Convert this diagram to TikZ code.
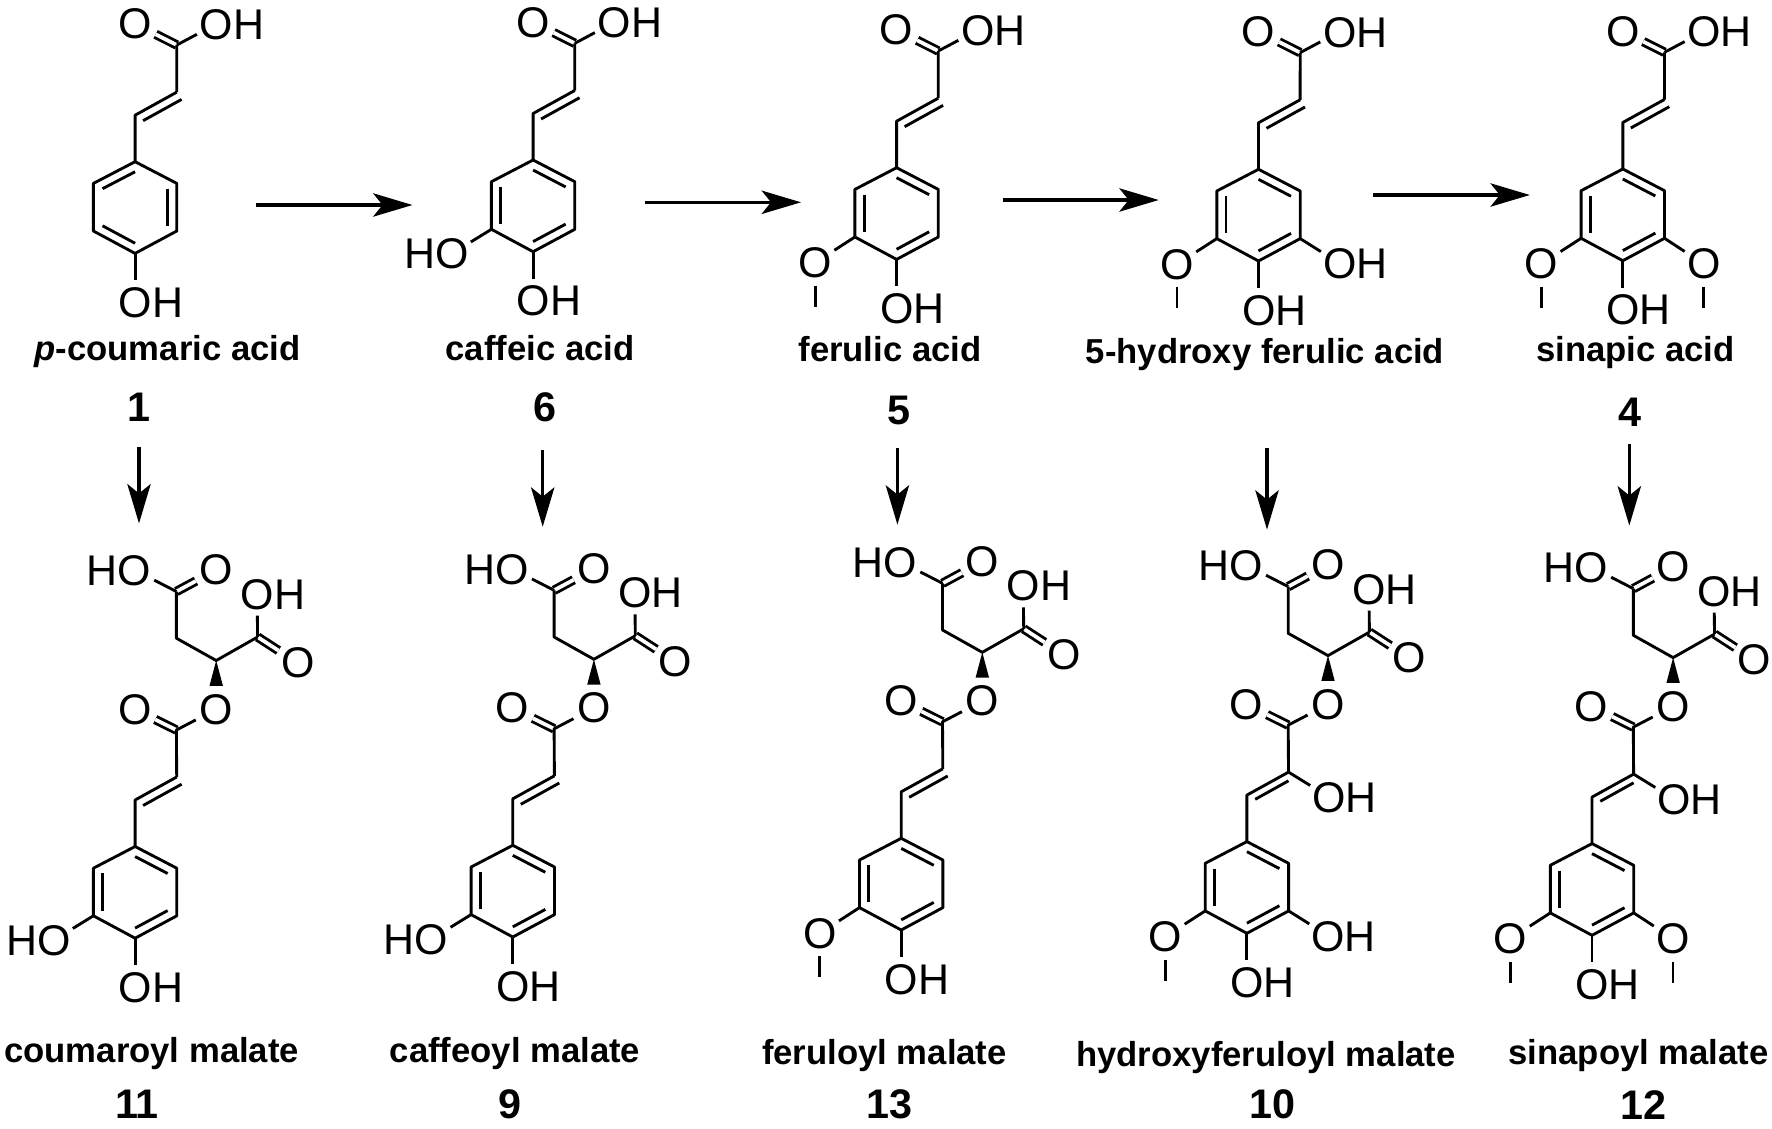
\documentclass[tikz,border=0pt]{standalone}
\usepackage{fontspec}
\usepackage{graphicx}
\setmainfont{Liberation Sans}
\usetikzlibrary{calc,arrows.meta}
\tikzset{
  bond/.style={line width=2.15pt,line join=round,black},
  dbl/.style={line width=2.15pt,double,double distance=2.8pt,black},
  toatom/.style={bond,shorten >=16.5pt},
  atomO/.style={circle,inner sep=0pt,minimum size=34pt,font=\fontsize{32.2}{32.2}\selectfont},
  atomT/.style={inner sep=0pt,font=\fontsize{32.2}{32.2}\selectfont},
  caption/.style={inner sep=0pt,anchor=base,font=\fontsize{26}{26}\selectfont\bfseries},
  number/.style={inner sep=0pt,anchor=base,font=\fontsize{31}{31}\selectfont\bfseries},
  rxn/.style={line width=2.3pt,black,-{Stealth[length=29.5pt,width=17.5pt,inset=7pt]}}
}
% ring; #1 prefix
\newcommand\RingAt[1]{%
  \coordinate (#1-t) at (0,0);
  \coordinate (#1-ur) at (41.7,21.7);
  \coordinate (#1-lr) at (41.7,69.3);
  \coordinate (#1-b) at (0,91.7);
  \coordinate (#1-ll) at (-41.7,69.3);
  \coordinate (#1-ul) at (-41.7,21.7);
  \coordinate (#1-c) at (0,45.7);
  \draw[bond] (#1-t)--(#1-ur)--(#1-lr)--(#1-b)--(#1-ll)--(#1-ul)--cycle;
}
\newcommand\InnerBond[3]{\draw[bond] ($(#1-c)!.78!(#1-#2)$) -- ($(#1-c)!.78!(#1-#3)$);}
\newcommand\RingA[1]{\RingAt{#1}\InnerBond{#1}{ul}{t}\InnerBond{#1}{ur}{lr}\InnerBond{#1}{ll}{b}}
\newcommand\RingB[1]{\RingAt{#1}\InnerBond{#1}{t}{ur}\InnerBond{#1}{ul}{ll}\InnerBond{#1}{lr}{b}}
% prefix, name, x, y : OH whose O is at x,y
\newcommand\OHat[4]{\coordinate (#1-#2) at (#3,#4);
  \node[atomT,anchor=base west] (#1-#2-text) at (#3-16.7,#4+15.4) {OH};}
\newcommand\HOat[4]{\coordinate (#1-#2) at (#3,#4);
  \node[atomT,anchor=base east] (#1-#2-text) at (#3+16.7,#4+15.4) {HO};}
\newcommand\Oat[4]{\node[atomO] (#1-#2) at (#3,#4) {O};}
\newcommand\BottomOH[1]{\OHat{#1}{boh}{0}{140.5}\draw[toatom] (#1-b)--(#1-boh);}
\newcommand\LeftHO[1]{\HOat{#1}{lho}{-81}{93.5}\draw[toatom] (#1-ll)--(#1-lho);}
\newcommand\RightOH[1]{\OHat{#1}{roh}{81}{94}\draw[toatom] (#1-lr)--(#1-roh);}
\newcommand\LeftOMe[1]{\Oat{#1}{lo}{-81.5}{95}\draw[bond] (#1-ll)--(#1-lo);
  \coordinate (#1-lme) at (-81.5,139);\draw[bond] (#1-lo)--(#1-lme);}
\newcommand\RightOMe[1]{\Oat{#1}{ro}{81}{95}\draw[bond] (#1-lr)--(#1-ro);
  \coordinate (#1-rme) at (81,139);\draw[bond] (#1-ro)--(#1-rme);}
% trans alkene
\newcommand\Alkene[1]{%
  \coordinate (#1-c2) at (0,-46.5);\coordinate (#1-c1) at (41.6,-69.5);
  \coordinate (#1-i2) at (8,-41);\coordinate (#1-i1) at (46.5,-62.3);
  \draw[bond] (#1-t)--(#1-c2)--(#1-c1);
  \draw[bond] (#1-i2)--(#1-i1);
}
\newcommand\HydroxyAlkene[1]{%
  \coordinate (#1-c2) at (0,-46.5);\coordinate (#1-c1) at (41.6,-69.5);
  \coordinate (#1-i2) at (8.3,-42.3);\coordinate (#1-i1) at (41.6,-60.8);
  \draw[bond] (#1-t)--(#1-c2)--(#1-c1);
  \draw[bond] (#1-i2)--(#1-i1);
  \OHat{#1}{aoh}{82}{-44.6}\draw[toatom] (#1-c1)--(#1-aoh);
}
\newcommand\AcidTail[1]{%
  \coordinate (#1-cc) at (41.7,-116.7);
  \Oat{#1}{o}{0}{-137.7}
  \OHat{#1}{oh}{81.2}{-137.7}
  \draw[dbl] (#1-cc)--(#1-o);
  \draw[toatom] (#1-cc)--(#1-oh);
  \draw[bond] (#1-c1)--(#1-cc);
}
\newcommand\Malate[1]{%
  \coordinate (#1-co) at (41.3,-116.5);
  \coordinate (#1-ch) at (81.1,-186);
  \coordinate (#1-ch2) at (41.3,-208.3);
  \coordinate (#1-k1) at (41.3,-255);
  \coordinate (#1-k2) at (122.5,-209.5);
  \Oat{#1}{o1}{-0.4}{-137.2}
  \Oat{#1}{oe}{81}{-137.2}
  \Oat{#1}{o2}{81}{-276.4}
  \Oat{#1}{o3}{162.6}{-183.5}
  \HOat{#1}{ho}{-0.4}{-276.4}
  \OHat{#1}{oh}{122}{-252.9}
  \draw[dbl] (#1-co)--(#1-o1);
  \draw[dbl] (#1-k1)--(#1-o2);
  \draw[dbl] (#1-k2)--(#1-o3);
  \draw[bond] (#1-c1)--(#1-co)--(#1-oe);
  \draw[bond] (#1-k2)--(#1-ch)--(#1-ch2)--(#1-k1);
  \draw[toatom] (#1-k1)--(#1-ho);
  \draw[toatom] (#1-k2)--(#1-oh);
  \fill (#1-ch) -- (74.4,-160.7) -- (87.8,-160.7) -- cycle;
}
\begin{document}
\begin{tikzpicture}[x=0.75pt,y=-0.75pt]
\useasboundingbox (0,0) rectangle (1772,1128);
% ---- top row
\begin{scope}[shift={(135.1,161.7)}]
  \RingA{a}\Alkene{a}\AcidTail{a}\BottomOH{a}
\end{scope}
\begin{scope}[shift={(533.1,160)}]
  \RingB{b}\Alkene{b}\AcidTail{b}\BottomOH{b}\LeftHO{b}
\end{scope}
\begin{scope}[shift={(896.6,167.7)}]
  \RingB{c}\Alkene{c}\AcidTail{c}\BottomOH{c}\LeftOMe{c}
\end{scope}
\begin{scope}[shift={(1258.5,169.3)}]
  \RingB{d}\Alkene{d}\AcidTail{d}\BottomOH{d}\LeftOMe{d}\RightOH{d}
\end{scope}
\begin{scope}[shift={(1622.8,169)}]
  \RingB{e}\Alkene{e}\AcidTail{e}\BottomOH{e}\LeftOMe{e}\RightOMe{e}
\end{scope}
% ---- bottom row
\begin{scope}[shift={(135.1,846.5)}]
  \RingB{f}\Alkene{f}\Malate{f}\BottomOH{f}\LeftHO{f}
\end{scope}
\begin{scope}[shift={(512.8,845.3)}]
  \RingB{g}\Alkene{g}\Malate{g}\BottomOH{g}\LeftHO{g}
\end{scope}
\begin{scope}[shift={(901.2,838.3)}]
  \RingB{h}\Alkene{h}\Malate{h}\BottomOH{h}\LeftOMe{h}
\end{scope}
\begin{scope}[shift={(1246.9,841.6)}]
  \RingB{i}\HydroxyAlkene{i}\Malate{i}\BottomOH{i}\LeftOMe{i}\RightOH{i}
\end{scope}
\begin{scope}[shift={(1592,843.6)}]
  \RingB{j}\HydroxyAlkene{j}\Malate{j}\BottomOH{j}\LeftOMe{j}\RightOMe{j}
\end{scope}
% ---- captions
\node[caption] (cap1) at (167.5,360) {\textit{p}-coumaric acid};
\node[caption] (cap2) at (540,360) {caffeic acid};
\node[caption] (cap3) at (890,361.7) {ferulic acid};
\node[caption] (cap4) at (1265,363.3) {5-hydroxy ferulic acid};
\node[caption] (cap5) at (1635.5,361.7) {sinapic acid};
\node[number] (num1) at (138.5,421) {1};
\node[number] (num6) at (545.3,421.7) {6};
\node[number] (num5) at (898.5,424) {5};
\node[number] (num4) at (1630,426) {4};
\node[caption] (cap6) at (151.7,1062.6) {coumaroyl malate};
\node[caption] (cap7) at (515,1062.6) {caffeoyl malate};
\node[caption] (cap8) at (884.5,1064.7) {feruloyl malate};
\node[caption] (cap9) at (1266,1066.8) {hydroxyferuloyl malate};
\node[caption] (cap10) at (1638.5,1064.7) {sinapoyl malate};
\node[number] (num11) at (137,1118.4) {11};
\node[number] (num9) at (510,1118.4) {9};
\node[number] (num13) at (889.7,1118.4) {13};
\node[number] (num10) at (1272,1118.4) {10};
\node[number] (num12) at (1643,1119) {12};
% ---- reaction arrows
\coordinate (h1s) at (255.6,205);\coordinate (h1e) at (412.5,205);
\coordinate (h2s) at (645,202.3);\coordinate (h2e) at (801,202.3);
\coordinate (h3s) at (1002.6,200);\coordinate (h3e) at (1158.7,200);
\coordinate (h4s) at (1373,195);\coordinate (h4e) at (1529.8,195);
\coordinate (v1s) at (139,446.7);\coordinate (v1e) at (139,523.4);
\coordinate (v2s) at (542.7,450);\coordinate (v2e) at (542.7,526.7);
\coordinate (v3s) at (897.4,448);\coordinate (v3e) at (897.4,524.6);
\coordinate (v4s) at (1267,448.3);\coordinate (v4e) at (1267,529.6);
\coordinate (v5s) at (1629.3,444);\coordinate (v5e) at (1629.3,525.5);
\foreach \n in {h1,h2,h3,h4,v1,v2,v3,v4,v5}{\draw[rxn] (\n s)--(\n e);}
\end{tikzpicture}
\end{document}
